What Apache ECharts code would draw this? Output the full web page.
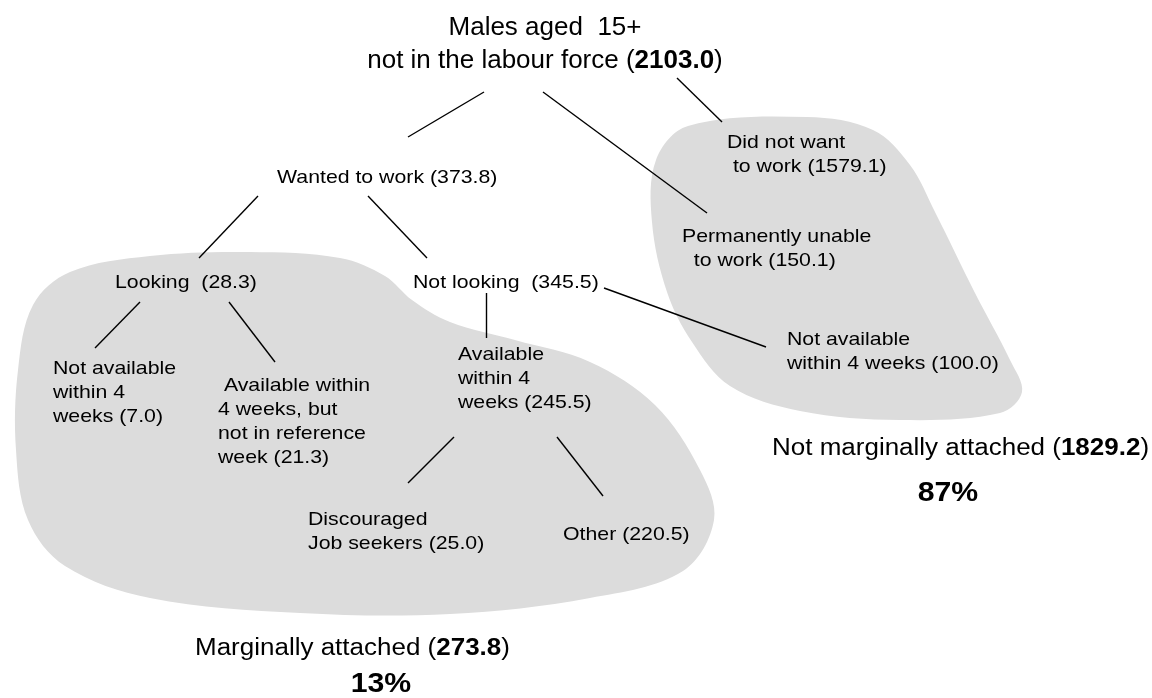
<!DOCTYPE html>
<html>
<head>
<meta charset="utf-8">
<script src="https://cdn.jsdelivr.net/npm/echarts@6/dist/echarts.min.js"></script>
<style>
  html, body { margin: 0; padding: 0; background: #fff; }
  #chart { width: 1152px; height: 698px; }
</style>
</head>
<body>
<div id="chart"></div>
<script>
// data: males aged 15+ not in the labour force (thousands)
const rootName = 'not in the labour force';
const rootValue = 2103.0;
const nodeNames = [
  'Wanted to work',
  'Did not want\n to work',
  'Permanently unable\n  to work',
  'Looking ',
  'Not looking ',
  'Not available\nwithin 4\nweeks',
  ' Available within\n4 weeks, but\nnot in reference\nweek',
  'Available\nwithin 4\nweeks',
  'Not available\nwithin 4 weeks',
  'Discouraged\nJob seekers',
  'Other'
];
const nodeValues = [373.8, 1579.1, 150.1, 28.3, 345.5, 7.0, 21.3, 245.5, 100.0, 25.0, 220.5];
const groupNames = ['Marginally attached', 'Not marginally attached'];
const groupValues = [273.8, 1829.2];
const groupShares = [13, 87];

// layout, in pixels of the 1152x698 canvas
const nodePos = [
  [277, 166], [727, 131], [682, 225], [115, 271], [413, 271],
  [53, 357], [218, 374], [458, 343], [787, 328], [308, 508], [563, 523]
];
const titlePos = [545, 12];
const groupPos = [[195, 649], [772, 449]];
const sharePos = [[381, 685], [948, 494]];
const connectors = [
  [[484, 92], [408, 137]],
  [[543, 92], [707, 213]],
  [[677, 78], [722, 122]],
  [[258, 196], [199, 258]],
  [[368, 196], [427, 258]],
  [[140, 302], [95, 348]],
  [[229, 302], [275, 362]],
  [[486, 293], [486, 338]],
  [[604, 288], [766, 347]],
  [[454, 437], [408, 483]],
  [[557, 437], [603, 496]]
];
const blobs = [
  [[250, 252], [150, 256], [70, 272], [33, 305], [18, 370], [16, 450], [28, 520],
   [65, 566], [150, 598], [300, 613], [450, 614], [590, 598], [683, 571], [714, 520],
   [700, 470], [655, 405], [590, 362], [515, 340], [450, 322], [412, 300], [385, 276], [340, 258]],
  [[807, 117], [873, 130], [910, 165], [935, 212], [975, 293], [1010, 360], [1022, 392],
   [1000, 413], [900, 420], [800, 411], [730, 386], [692, 342], [667, 292], [652, 222],
   [656, 160], [688, 126]]
];

const fmt = v => v.toFixed(1);
const FONT = 'Liberation Sans, Arial, sans-serif';

// every text item: position, content and look
const texts = [];
nodeNames.forEach((n, i) => texts.push({
  pos: nodePos[i], text: n + ' (' + fmt(nodeValues[i]) + ')',
  size: 19, sx: 1.12, lh: 24, align: 'left', va: 'top'
}));
texts.push({
  pos: titlePos, text: 'Males aged  15+\n' + rootName + ' ({b|' + fmt(rootValue) + '})',
  size: 25, sx: 1.04, lh: 33, align: 'center', va: 'top'
});
groupNames.forEach((n, i) => {
  texts.push({
    pos: groupPos[i], text: n + ' ({b|' + fmt(groupValues[i]) + '})',
    size: 23, sx: 1.13, lh: 26, align: 'left', va: 'middle'
  });
  texts.push({
    pos: sharePos[i], text: '{p|' + groupShares[i] + '%}',
    size: 27, sx: 1.12, lh: 30, align: 'center', va: 'middle'
  });
});

const chart = echarts.init(document.getElementById('chart'));
chart.setOption({
  animation: false,
  grid: { left: 0, right: 0, top: 0, bottom: 0 },
  xAxis: { type: 'value', min: 0, max: 1152, show: false },
  yAxis: { type: 'value', min: 0, max: 698, inverse: true, show: false },
  series: [
    {
      type: 'custom',
      silent: true,
      data: blobs.map((b, i) => [i]),
      renderItem: (params, api) => {
        const pts = blobs[api.value(0)].map(p => api.coord(p));
        return {
          type: 'polygon',
          shape: { points: pts, smooth: 0.35 },
          style: { fill: '#dcdcdc', stroke: null }
        };
      },
      z: 1
    },
    {
      type: 'lines',
      coordinateSystem: 'cartesian2d',
      silent: true,
      data: connectors.map(c => ({ coords: c })),
      lineStyle: { color: '#000', width: 1.4, opacity: 1 },
      z: 2
    },
    {
      type: 'custom',
      silent: true,
      data: texts.map(t => t.pos),
      renderItem: (params, api) => {
        const t = texts[params.dataIndex];
        const p = api.coord([api.value(0), api.value(1)]);
        const base = { fontFamily: FONT, fontSize: t.size, fill: '#000' };
        return {
          type: 'text',
          x: p[0], y: p[1],
          scaleX: t.sx,
          style: {
            text: t.text,
            fontFamily: FONT, fontSize: t.size, lineHeight: t.lh,
            fill: '#000', align: t.align, verticalAlign: t.va,
            rich: {
              b: Object.assign({}, base, { fontWeight: 'bold', lineHeight: t.lh }),
              p: Object.assign({}, base, { fontWeight: 'bold', lineHeight: t.lh })
            }
          }
        };
      },
      z: 3
    }
  ]
});
</script>
</body>
</html>
